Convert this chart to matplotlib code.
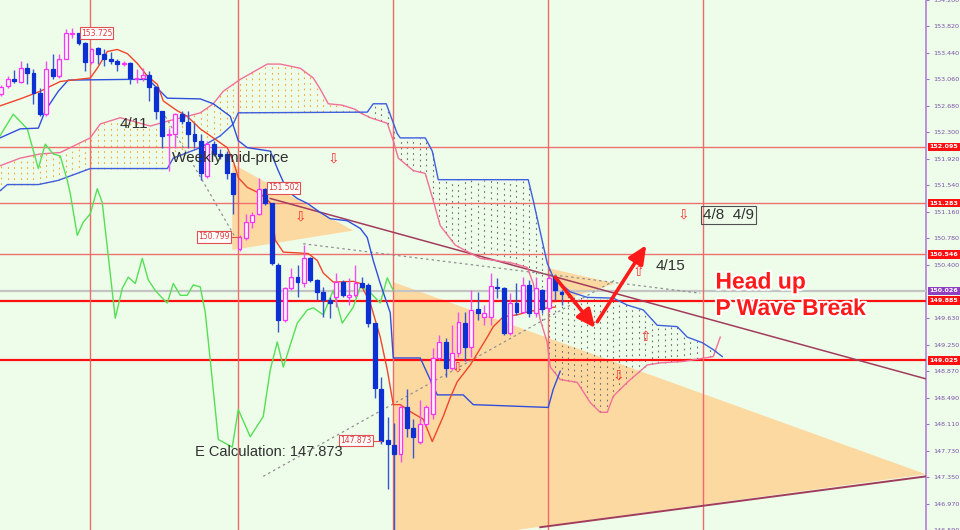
import numpy as np
import matplotlib
matplotlib.use("Agg")
import matplotlib.pyplot as plt
import matplotlib.patheffects as pe
from matplotlib.patches import Polygon, Rectangle
from matplotlib.transforms import blended_transform_factory

BG = "#edfdea"
BLUE = "#0c30d4"
PINK = "#ff30ff"

# ---- hourly candles (bar index = position in list) ----
opens = [152.85, 152.96, 153.06, 153.02, 153.23, 153.15, 152.86, 152.56, 153.21, 153.11,
         153.36, 153.71, 153.725, 153.58, 153.31, 153.51, 153.43, 153.35, 153.33, 153.28,
         153.29, 153.06, 153.08, 153.13, 152.95, 152.61, 152.26, 152.28, 152.56, 152.45,
         152.28, 152.18, 151.68, 152.13, 151.99, 151.99, 151.71, 150.63, 150.78, 151.01,
         151.13, 151.49, 151.28, 150.39, 149.61, 150.06, 150.22, 150.13, 150.49, 150.18,
         150.01, 149.89, 149.93, 150.15, 149.93, 149.96, 150.13, 150.11, 149.56, 148.62,
         147.88, 147.81, 147.68, 148.36, 148.06, 147.86, 148.11, 148.25, 149.06, 149.29,
         148.92, 149.13, 149.56, 149.22, 149.76, 149.65, 149.65, 150.08, 150.06, 149.42,
         149.85, 149.72, 150.11, 149.71, 150.03, 149.78, 150.22, 150.01]
highs = [152.98, 153.11, 153.19, 153.32, 153.29, 153.21, 152.93, 153.32, 153.43, 153.42,
         153.78, 153.80, 153.73, 153.59, 153.51, 153.52, 153.49, 153.46, 153.36, 153.32,
         153.31, 153.21, 153.22, 153.18, 152.96, 152.61, 152.36, 152.58, 152.61, 152.61,
         152.43, 152.28, 152.18, 152.18, 152.06, 152.03, 151.72, 150.82, 151.13, 151.15,
         151.65, 151.502, 151.29, 150.42, 150.08, 150.35, 150.39, 150.68, 150.51, 150.19,
         150.08, 149.93, 150.28, 150.18, 150.21, 150.39, 150.22, 150.13, 149.56, 148.79,
         148.21, 148.13, 148.39, 148.61, 148.18, 148.46, 148.39, 149.21, 149.39, 149.35,
         149.53, 149.72, 149.72, 150.03, 150.01, 149.82, 150.28, 150.21, 150.08, 149.99,
         150.13, 150.22, 150.18, 150.22, 150.05, 150.25, 150.23, 150.03]
lows = [152.82, 152.93, 153.01, 153.01, 152.99, 152.71, 152.53, 152.53, 153.06, 153.08,
        153.35, 153.65, 153.55, 153.18, 153.28, 153.28, 153.25, 153.28, 153.18, 153.25,
        152.99, 153.01, 153.03, 152.75, 152.49, 152.08, 151.75, 152.08, 152.42, 152.08,
        152.08, 151.61, 151.65, 151.96, 151.92, 151.63, 151.13, 150.60, 150.75, 150.93,
        151.11, 151.25, 150.39, 149.43, 149.58, 150.03, 149.93, 150.08, 150.15, 149.89,
        149.65, 149.63, 149.79, 149.93, 149.82, 149.93, 150.06, 149.51, 148.49, 147.82,
        147.18, 146.50, 147.56, 147.92, 147.63, 147.82, 148.08, 148.18, 149.03, 148.79,
        148.89, 149.08, 149.01, 149.08, 149.61, 149.53, 149.53, 149.92, 149.39, 149.39,
        149.68, 149.71, 149.65, 149.65, 149.71, 149.72, 149.89, 149.82]
closes = [152.95, 153.06, 153.03, 153.23, 153.15, 152.86, 152.56, 153.21, 153.11, 153.36,
          153.72, 153.72, 153.58, 153.31, 153.49, 153.43, 153.36, 153.32, 153.28, 153.29,
          153.08, 153.08, 153.13, 152.95, 152.61, 152.25, 152.28, 152.56, 152.46, 152.28,
          152.18, 151.71, 152.13, 151.99, 151.96, 151.71, 151.42, 150.799, 151.01, 151.11,
          151.49, 151.29, 150.42, 149.61, 150.06, 150.22, 150.15, 150.49, 150.18, 150.01,
          149.89, 149.85, 150.15, 149.96, 149.96, 150.13, 150.08, 149.56, 148.63, 147.873,
          147.82, 147.68, 148.36, 148.06, 147.93, 148.11, 148.36, 149.06, 149.29, 148.92,
          149.13, 149.58, 149.22, 149.75, 149.71, 149.71, 150.09, 150.06, 149.42, 149.85,
          149.72, 150.11, 149.71, 150.06, 149.76, 150.21, 150.03, 149.98]

# ---- ichimoku lines (bar, price) ----
tenkan_x = [-0.2, 2.95, 6.06, 9.16, 13.82, 14.91, 16.46, 18.01, 19.57, 21.12, 22.67, 24.22,
            25.16, 27.33, 28.88, 30.9, 32.92, 35.09, 36.02, 36.8, 38.2, 40.22, 41.77, 42.55,
            43.79, 47.67, 49.07, 50.0, 51.55, 54.66, 55.75, 57.3, 58.85, 59.94, 60.87, 61.96,
            63.51, 65.53, 66.93, 68.63, 69.72, 70.81, 72.83, 75.47, 76.4, 77.95, 80.12, 81.68,
            84.78, 86.02]
tenkan_y = [152.68, 152.78, 152.89, 153.03, 153.08, 153.22, 153.46, 153.49, 153.43, 153.29,
            153.11, 152.99, 152.75, 152.61, 152.53, 152.35, 152.22, 152.08, 151.89, 151.65,
            151.51, 151.42, 151.29, 150.75, 150.58, 150.56, 150.46, 150.28, 150.15, 150.16,
            150.13, 149.85, 149.36, 148.89, 148.39, 148.39, 148.29, 148.18, 147.86, 148.22,
            148.49, 148.72, 148.96, 149.36, 149.51, 149.65, 149.68, 149.72, 149.78, 149.79]

kijun_x = [-0.2, 2.95, 5.75, 6.83, 8.85, 10.4, 19.72, 22.83, 23.6, 25.78, 30.9, 32.92, 35.56,
           36.8, 38.2, 41.77, 43.01, 44.41, 45.96, 47.52, 49.53, 51.09, 53.73, 55.75, 56.83,
           57.76, 58.85, 60.4, 60.87, 65.06, 67.7, 71.74, 73.29, 84.94, 85.71, 86.8]
kijun_y = [152.22, 152.35, 152.36, 152.61, 152.89, 153.05, 153.06, 153.06, 152.99, 152.79,
           152.78, 152.71, 152.53, 152.18, 152.08, 152.03, 151.75, 151.46, 151.35, 151.28,
           151.15, 151.06, 151.03, 150.92, 150.79, 150.46, 150.13, 149.71, 149.06, 149.06,
           148.53, 148.53, 148.39, 148.35, 148.61, 148.87]

span_a_x = [-0.2, 2.95, 6.06, 9.16, 10.71, 13.82, 15.37, 18.48, 23.14, 25.78, 28.88, 30.9,
            32.92, 34.47, 36.02, 37.11, 41.3, 43.32, 46.43, 48.45, 49.53, 50.78, 52.95, 54.97,
            55.75, 57.3, 59.94, 60.87, 61.65, 63.98, 65.84, 67.08, 68.17, 70.5, 74.38, 79.04,
            81.68, 82.61, 83.7, 84.78, 85.25, 86.8, 89.44, 91.46, 93.01, 94.1, 95.03, 97.2,
            100.31, 102.33, 105.9, 110.56, 111.65]
span_a_y = [151.82, 151.93, 151.99, 152.01, 152.08, 152.22, 152.42, 152.51, 152.39, 152.46,
            152.53, 152.58, 152.71, 152.89, 152.99, 153.06, 153.28, 153.28, 153.22, 153.08,
            152.92, 152.71, 152.69, 152.63, 152.58, 152.51, 152.43, 152.18, 151.93, 151.75,
            151.71, 151.32, 150.96, 150.68, 150.49, 150.43, 150.36, 150.13, 149.61, 149.28,
            148.93, 148.75, 148.71, 148.42, 148.28, 148.28, 148.51, 148.71, 148.96, 148.99,
            149.01, 149.08, 149.36]

span_b_x = [-0.2, 0.93, 5.75, 8.85, 13.82, 25.78, 26.71, 30.9, 34.01, 36.02, 36.8, 56.83,
            57.76, 59.78, 61.49, 61.96, 65.84, 66.93, 67.86, 81.83, 82.61, 84.78, 85.71, 88.35,
            91.0, 95.03, 97.2, 99.69, 101.86, 104.97, 106.52, 108.85, 110.56, 111.96]
span_b_y = [151.46, 151.55, 151.55, 151.61, 151.78, 151.78, 151.93, 152.08, 152.25, 152.42,
            152.58, 152.59, 152.71, 152.71, 152.28, 152.22, 152.22, 152.03, 151.62, 151.62,
            151.32, 150.42, 150.22, 150.01, 149.93, 149.92, 149.82, 149.75, 149.53, 149.51,
            149.36, 149.28, 149.18, 149.08]

chikou_x = [-0.2, 1.86, 4.04, 5.75, 6.83, 8.07, 9.16, 10.25, 10.71, 11.8, 12.73, 13.82, 14.91,
            15.68, 16.46, 17.7, 18.79, 19.72, 20.81, 21.89, 22.83, 23.91, 25.0, 25.78, 26.71,
            27.8, 28.88, 29.81, 30.9, 31.68, 32.45, 33.7, 35.87, 36.8, 38.66, 40.68, 41.77,
            42.86, 43.79, 45.96, 47.52, 48.45, 50.0, 51.55, 52.95, 54.66, 55.75, 56.99, 58.85,
            59.94, 60.87]
chikou_y = [152.25, 152.56, 152.35, 151.78, 152.13, 151.99, 151.96, 151.61, 151.42, 150.82,
            151.01, 151.13, 151.49, 151.29, 150.65, 149.63, 150.06, 150.22, 150.13, 150.49,
            150.18, 150.03, 149.92, 149.85, 150.13, 149.96, 149.96, 150.11, 150.08, 149.71,
            149.03, 147.89, 147.78, 148.32, 147.93, 148.22, 148.89, 149.29, 148.93, 149.56,
            149.75, 149.78, 149.68, 150.03, 149.56, 149.79, 150.08, 150.03, 149.85, 150.21,
            150.03]

# ---- levels, axis ticks and session breaks ----
levels = [152.095, 151.283, 150.546, 149.885, 149.025]
strong_levels = [149.885, 149.025]
pivot = 150.026
price_ticks = [146.590, 146.970, 147.350, 147.730, 148.110, 148.490, 148.870, 149.250,
               149.630, 150.400, 150.780, 151.160, 151.540, 151.920, 152.300, 152.680,
               153.060, 153.440, 153.820, 154.200]
day_breaks = [13.8, 36.8, 60.9, 84.9, 108.9]

# ---- drawn objects ----
trend_down_x, trend_down_y = [41.77, 143.6], [151.35, 148.76]
trend_up_x, trend_up_y = [83.7, 143.6], [146.63, 147.36]
guide1_x, guide1_y = [25.47, 36.34], [152.53, 150.79]
guide2_x, guide2_y = [46.89, 108.54], [150.70, 149.99]
guide3_x, guide3_y = [40.68, 95.34], [147.36, 150.18]

wedge_small_x, wedge_small_y = [35.87, 35.87, 54.66], [151.85, 150.61, 150.89]
wedge_big_x, wedge_big_y = [60.87, 143.6, 60.87], [150.15, 147.39, 146.35]
wedge_tip_x, wedge_tip_y = [84.94, 95.34, 84.94], [150.35, 150.13, 149.82]

arrow_down = ((86.02, 150.22), (92.24, 149.49))
arrow_up = ((92.55, 149.58), (100.16, 150.68))

sig_x = [51.55, 46.43, 105.9, 95.81, 70.81, 98.9, 100.0]
sig_y = [151.93, 151.09, 151.12, 148.81, 148.92, 150.29, 149.36]
sig_dir = ["down", "down", "down", "down", "down", "up", "up"]

# ---- figure ----
fig = plt.figure(figsize=(9.6, 5.3), dpi=100, facecolor=BG)
ax = fig.add_axes([0, 0, 926 / 960, 1], facecolor=BG)
ax.set_xlim(-0.2, 143.6)
ax.set_ylim(146.606, 154.177)

# triangles
for px, py in [(wedge_small_x, wedge_small_y), (wedge_big_x, wedge_big_y), (wedge_tip_x, wedge_tip_y)]:
    ax.add_patch(Polygon(np.column_stack([px, py]), closed=True, facecolor="#fdd9a2",
                         edgecolor="none", zorder=1))

# cloud dots
bars = np.arange(0, 112)
a = np.interp(bars, span_a_x, span_a_y)
b = np.interp(bars, span_b_x, span_b_y)
bull = a >= b
ax.vlines(bars[bull], b[bull], a[bull], colors="#f0a830", linestyles=(0, (1.5, 3.5)), lw=0.8, zorder=2)
ax.vlines(bars[~bull], a[~bull], b[~bull], colors="#707070", linestyles=(0, (1.5, 3.5)), lw=0.8, zorder=2)

# levels and session breaks
for lv in levels:
    if lv in strong_levels:
        ax.axhline(lv, color="#ff1010", lw=1.6, zorder=3)
    else:
        ax.axhline(lv, color="#f07070", lw=1.0, zorder=3)
ax.axhline(pivot, color="#c4c4c4", lw=1.6, zorder=3)
for d in day_breaks:
    ax.axvline(d, color="#f06a6a", lw=1.0, zorder=3)

# trend lines
ax.plot(trend_down_x, trend_down_y, color="#a23c5c", lw=1.1, zorder=4)
ax.plot(trend_up_x, trend_up_y, color="#a23c5c", lw=1.4, zorder=4)
for gx, gy in [(guide1_x, guide1_y), (guide2_x, guide2_y), (guide3_x, guide3_y)]:
    ax.plot(gx, gy, color="#909090", lw=0.9, ls=(0, (2, 2.5)), zorder=4)

# ichimoku lines
ax.plot(span_a_x, span_a_y, color="#f27098", lw=1.0, zorder=4)
ax.plot(span_b_x, span_b_y, color="#3f5ee0", lw=1.0, zorder=4)
ax.plot(chikou_x, chikou_y, color="#55e055", lw=1.0, zorder=4)
ax.plot(kijun_x, kijun_y, color="#2f4fdc", lw=1.0, zorder=5)
ax.plot(tenkan_x, tenkan_y, color="#f0452a", lw=1.0, zorder=5)

# candles
for i, (o, h, l, c) in enumerate(zip(opens, highs, lows, closes)):
    up = c >= o
    col = PINK if up else BLUE
    ax.vlines(i, l, h, color=("#f050f0" if up else "#3a55d0"), lw=1.0, zorder=6)
    bottom = min(o, c)
    height = max(abs(c - o), 0.012)
    ax.add_patch(Rectangle((i - 0.3, bottom), 0.6, height, facecolor=("#fff4ff" if up else BLUE),
                           edgecolor=col, lw=0.9, zorder=7))

# price tags on the candles
def price_tag(x, y, ha):
    ax.text(x, y, f"{y:.3f}", ha=ha, va="center", fontsize=5.5, color="#e03a3a",
            family="DejaVu Sans", zorder=9,
            bbox=dict(boxstyle="square,pad=0.15", facecolor="white", edgecolor="#e05050", lw=0.8))

price_tag(12.35, opens[12], "left")
price_tag(41.4, highs[41], "left")
price_tag(35.5, closes[37], "right")
price_tag(57.5, closes[59], "right")
ax.plot([57.6, 59.0], [closes[59], closes[59]], color="#e05050", lw=0.8, zorder=8)
ax.plot([35.6, 37.0], [closes[37], closes[37]], color="#e05050", lw=0.8, zorder=8)

# signal marks
for sx, sy, sd in zip(sig_x, sig_y, sig_dir):
    ax.text(sx, sy, "\u21e9" if sd == "down" else "\u21e7", ha="center", va="center",
            fontsize=10, color="#ff3030", family="DejaVu Sans", zorder=8)

# big arrows
for tail, head in [arrow_down, arrow_up]:
    ax.annotate("", xy=head, xytext=tail, zorder=10,
                arrowprops=dict(arrowstyle="-|>,head_length=0.55,head_width=0.25",
                                color="#ff1a1a", lw=2.6, mutation_scale=20, shrinkA=0, shrinkB=0))

# annotations
txt = dict(family="Liberation Sans", color="#303030", zorder=11)
ax.text(18.3, 152.42, "4/11", fontsize=11, va="center", ha="left", **txt)
ax.text(26.55, 151.93, "Weekly mid-price", fontsize=11, va="center", ha="left", **txt)
ax.text(30.1, 147.71, f"E Calculation: {closes[59]:.3f}", fontsize=10.5, va="center", ha="left", **txt)
ax.text(101.55, 150.38, "4/15", fontsize=11, va="center", ha="left", **txt)
ax.text(109.0, 151.11, "4/8  4/9", fontsize=11, va="center", ha="left",
        bbox=dict(boxstyle="square,pad=0.12", facecolor="none", edgecolor="#505050", lw=0.8), **txt)

bold = dict(family="Liberation Sans", fontsize=16.5, fontweight="bold", color="#ff1a1a",
            ha="left", va="center", zorder=12,
            path_effects=[pe.withStroke(linewidth=3, foreground="white")])
ax.text(110.9, 150.15, "Head up", **bold)
ax.text(110.9, 149.77, "P Wave Break", **bold)

# right price axis
ax.set_yticks(price_ticks)
ax.set_yticklabels([f"{t:.3f}" for t in price_ticks])
ax.yaxis.tick_right()
ax.tick_params(axis="y", direction="out", length=2, width=0.8, color="#9b6fc0",
               labelcolor="#7a52a8", labelsize=4.6, pad=3)
for lab in ax.get_yticklabels():
    lab.set_family("DejaVu Sans")
ax.set_xticks([])
for side in ["left", "top", "bottom"]:
    ax.spines[side].set_visible(False)
ax.spines["right"].set_color("#b57edc")
ax.spines["right"].set_linewidth(1.2)

tr = blended_transform_factory(ax.transAxes, ax.transData)
for lv in levels:
    ax.text(1.0035, lv, f"{lv:.3f}", transform=tr, ha="left", va="center", fontsize=4.6,
            fontweight="bold", color="white", family="DejaVu Sans", clip_on=False, zorder=12,
            bbox=dict(boxstyle="square,pad=0.25", facecolor="#ff1010", edgecolor="none"))
ax.text(1.0035, pivot, f"{pivot:.3f}", transform=tr, ha="left", va="center", fontsize=4.6,
        fontweight="bold", color="white", family="DejaVu Sans", clip_on=False, zorder=12,
        bbox=dict(boxstyle="square,pad=0.25", facecolor="#8e3fc0", edgecolor="none"))

fig.savefig("out.png", dpi=100, facecolor=BG)
